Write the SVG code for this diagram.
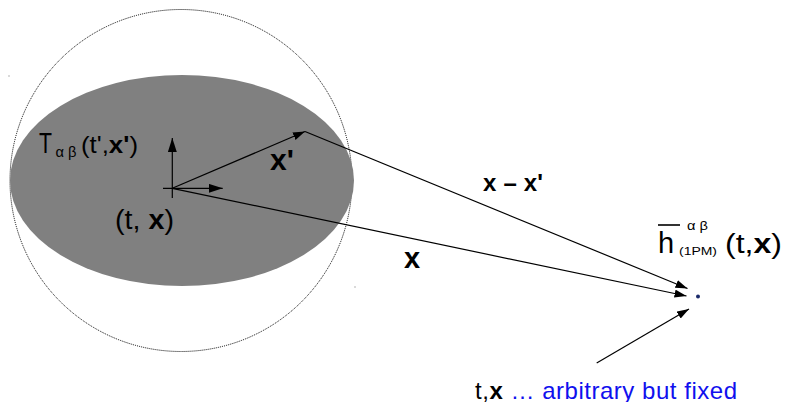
<svg xmlns="http://www.w3.org/2000/svg" width="785" height="402" viewBox="0 0 785 402">
<style>
text{font-family:"Liberation Sans",Arial,sans-serif;fill:#000}
.b{font-weight:bold}
.blue{fill:#1010ee}
.ln{stroke:#000;stroke-width:1.2;fill:none}
</style>
<defs>
<marker id="ah" markerUnits="userSpaceOnUse" markerWidth="13" markerHeight="9" refX="12" refY="4" orient="auto"><path d="M0,0 L12,4 L0,8 z" fill="#000"/></marker>
<marker id="ax" markerUnits="userSpaceOnUse" markerWidth="15" markerHeight="10" refX="14" refY="4.5" orient="auto"><path d="M0,0 L14,4.5 L0,9 z" fill="#000"/></marker>
</defs>
<rect width="785" height="402" fill="#fff"/>
<g id="source">
<circle cx="181" cy="180.5" r="171" fill="none" stroke="#000" stroke-width="1" stroke-dasharray="1,1"/>
<ellipse cx="182" cy="180.5" rx="172" ry="105.5" fill="#808080"/>
<circle cx="9" cy="76" r="0.7" fill="#999"/>
<circle cx="355" cy="287" r="0.7" fill="#999"/>
<text x="39" y="153" font-size="29" textLength="13" lengthAdjust="spacingAndGlyphs">T</text>
<text x="55.5" y="157" font-size="15" textLength="21" lengthAdjust="spacingAndGlyphs">α β</text>
<text x="81" y="152.5" font-size="24" textLength="57" lengthAdjust="spacingAndGlyphs">(t',<tspan class="b">x'</tspan>)</text>
<text x="115" y="228.5" font-size="27" textLength="59" lengthAdjust="spacingAndGlyphs">(t,<tspan class="b"> x</tspan>)</text>
</g>
<g id="frame">
<line class="ln" x1="163" y1="188.3" x2="222.7" y2="188.3" marker-end="url(#ax)"/>
<line class="ln" x1="172.3" y1="198" x2="172.3" y2="138" marker-end="url(#ax)"/>
</g>
<g id="field-point">
<circle cx="698" cy="296.5" r="2" fill="#1a2a6a"/>
<line x1="658" y1="225" x2="680" y2="225" stroke="#000" stroke-width="1.6"/>
<text x="658" y="253" font-size="29">h</text>
<text x="687" y="230" font-size="13" textLength="21" lengthAdjust="spacingAndGlyphs">α β</text>
<text x="679" y="255" font-size="10" textLength="38" lengthAdjust="spacingAndGlyphs">(1PM)</text>
<text x="725" y="252.5" font-size="27" textLength="57" lengthAdjust="spacingAndGlyphs">(t,<tspan class="b">x</tspan>)</text>
</g>
<g id="connectors">
<line class="ln" x1="172.3" y1="188.3" x2="305" y2="131.5" marker-end="url(#ah)"/>
<line class="ln" x1="305" y1="131.5" x2="687.5" y2="288.5" marker-end="url(#ah)"/>
<line class="ln" x1="172.3" y1="188.3" x2="686.5" y2="296" marker-end="url(#ah)"/>
<line class="ln" x1="596.7" y1="363" x2="689" y2="309" marker-end="url(#ah)"/>
</g>
<g id="labels">
<text class="b" x="270" y="170" font-size="30">x'</text>
<text class="b" x="483" y="190.5" font-size="24" textLength="60" lengthAdjust="spacing">x – x'</text>
<text class="b" x="404" y="268" font-size="29">x</text>
<text x="475" y="398.5" font-size="24" textLength="262" lengthAdjust="spacing">t,<tspan class="b">x</tspan><tspan class="blue"> … arbitrary but fixed</tspan></text>
</g>
</svg>
